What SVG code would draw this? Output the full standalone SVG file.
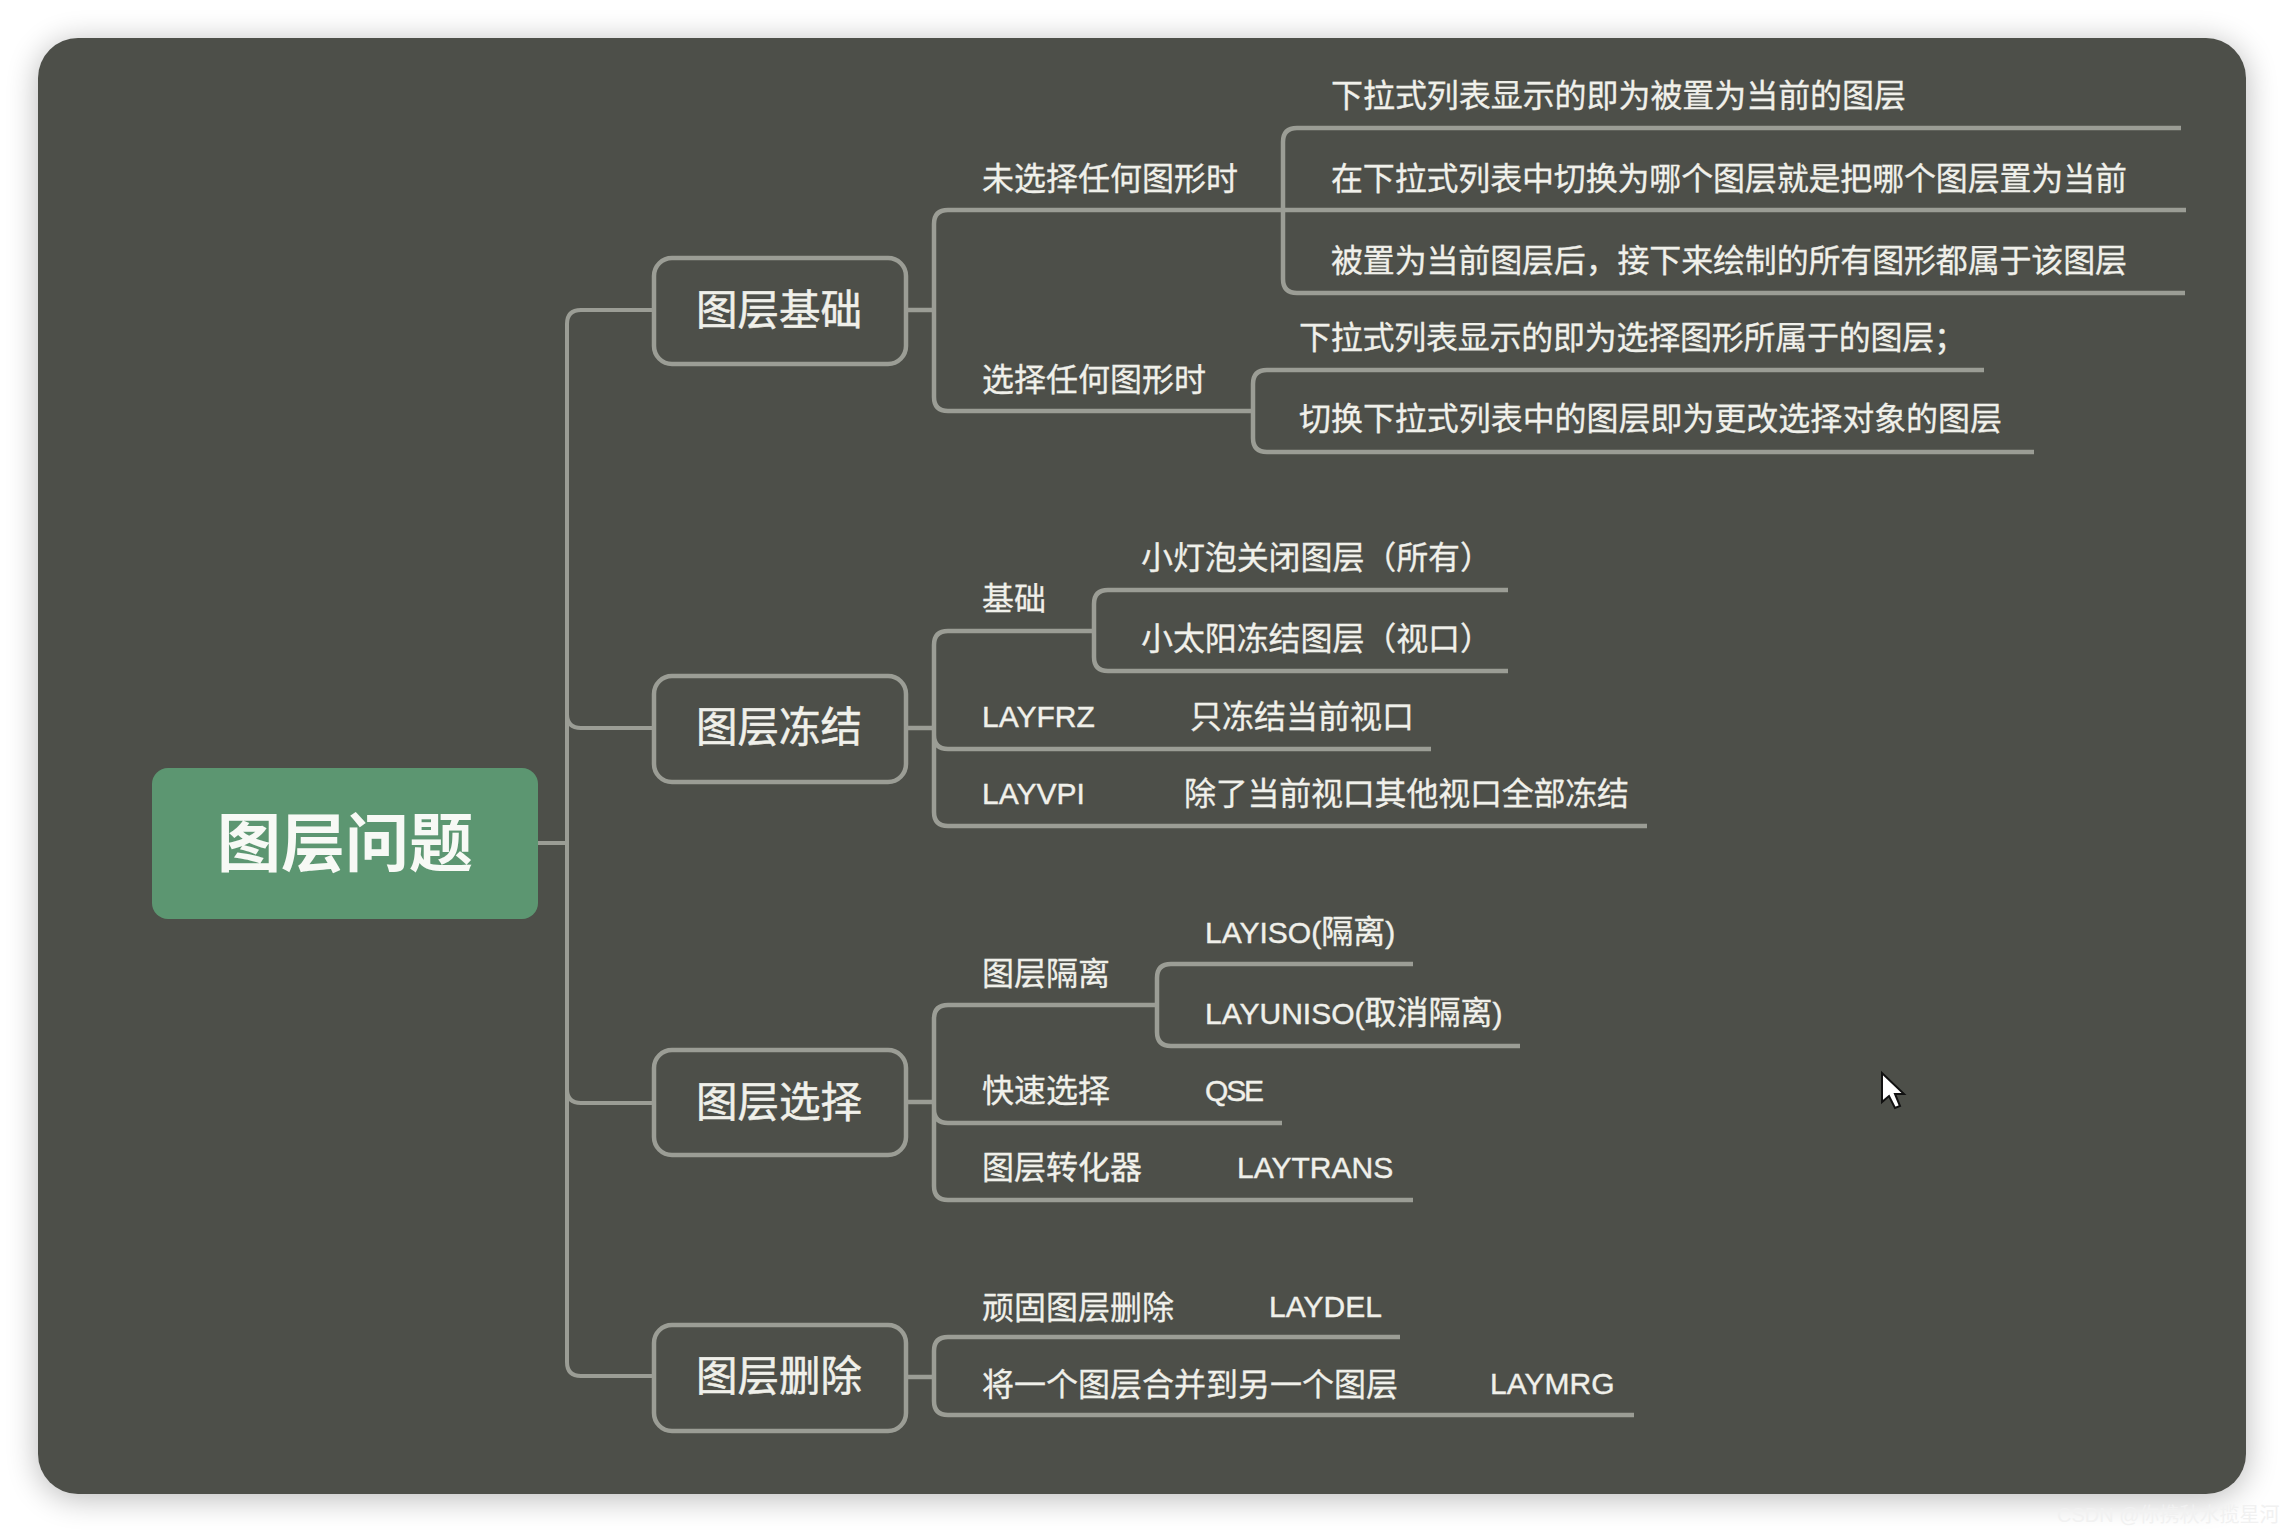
<svg xmlns="http://www.w3.org/2000/svg" width="2284" height="1532" viewBox="0 0 2284 1532">
<style>
.l{fill:none;stroke:#9b9d95;stroke-width:4.5;stroke-linecap:butt}
text{font-family:"Liberation Sans","Noto Sans CJK SC",sans-serif;fill:#f0f0ea}
.t{font-size:32px;stroke:#f0f0ea;stroke-width:0.3}
.b{font-size:41.5px;text-anchor:middle;stroke:#f0f0ea;stroke-width:0.5}
.n{fill:#4d4f49;stroke:#9b9d95;stroke-width:4.5}
.e{font-size:30px;stroke:#f0f0ea;stroke-width:0.4}
.c{font-size:32px}
</style>
<defs>
<filter id="s" x="-5%" y="-5%" width="110%" height="110%"><feGaussianBlur stdDeviation="16"/></filter>
</defs>
<rect width="2284" height="1532" fill="#fff"/>
<rect x="38" y="42" width="2208" height="1456" rx="40" fill="#000" opacity="0.28" filter="url(#s)"/>
<rect id="card" x="38" y="38" width="2208" height="1456" rx="40" fill="#4d4f49"/>
<text x="2057" y="1522" font-size="20" style="fill:#f1f1f1">CSDN @你携秋水揽星河</text>
<g id="connectors" class="l">
<path class="l" style="stroke-width:4" d="M537 843H567M567 843V324Q567 310 581 310H654M567 714Q567 728 581 728H654M567 843V1089Q567 1103 581 1103H654M567 843V1362Q567 1376 581 1376H654"/>
<path class="l" d="M906 310H934M934 310V224Q934 210 948 210H1283M934 310V397Q934 411 948 411H1253"/>
<path class="l" d="M1283 210V142Q1283 128 1297 128H2181M1283 210H2186M1283 210V279Q1283 293 1297 293H2185"/>
<path class="l" d="M1253 411V384Q1253 370 1267 370H1984M1253 411V438Q1253 452 1267 452H2034"/>
<path class="l" d="M906 728H934M934 728V645Q934 631 948 631H1094M934 728V735Q934 749 948 749H1431M934 728V812Q934 826 948 826H1647"/>
<path class="l" d="M1094 631V604Q1094 590 1108 590H1508M1094 631V657Q1094 671 1108 671H1508"/>
<path class="l" d="M906 1102H934M934 1102V1019Q934 1005 948 1005H1157M934 1102V1109Q934 1123 948 1123H1282M934 1102V1186Q934 1200 948 1200H1413"/>
<path class="l" d="M1157 1005V978Q1157 964 1171 964H1413M1157 1005V1032Q1157 1046 1171 1046H1520"/>
<path class="l" d="M906 1377H934M934 1377V1351Q934 1337 948 1337H1400M934 1377V1401Q934 1415 948 1415H1634"/>
</g>
<g id="root"><rect x="152" y="768" width="386" height="151" rx="16" fill="#5c9671"/><text x="345" y="866" font-size="64" font-weight="700" text-anchor="middle" style="fill:#f7f9f5">图层问题</text></g>
<g id="n1"><rect class="n" x="654" y="258" width="252" height="106" rx="18"/><text class="b" x="779" y="325">图层基础</text></g>
<g id="n2"><rect class="n" x="654" y="676" width="252" height="106" rx="18"/><text class="b" x="779" y="742">图层冻结</text></g>
<g id="n3"><rect class="n" x="654" y="1050" width="252" height="105" rx="18"/><text class="b" x="779" y="1117">图层选择</text></g>
<g id="n4"><rect class="n" x="654" y="1325" width="252" height="106" rx="18"/><text class="b" x="779" y="1391">图层删除</text></g>
<g id="leaf-jichu">
<text class="t" x="982" y="190">未选择任何图形时</text>
<text class="t" x="982" y="391">选择任何图形时</text>
<text class="t" x="1331" y="107" textLength="575">下拉式列表显示的即为被置为当前的图层</text>
<text class="t" x="1331" y="190" textLength="796">在下拉式列表中切换为哪个图层就是把哪个图层置为当前</text>
<text class="t" x="1331" y="272" textLength="796">被置为当前图层后，接下来绘制的所有图形都属于该图层</text>
<text class="t" x="1299" y="349" textLength="667">下拉式列表显示的即为选择图形所属于的图层；</text>
<text class="t" x="1299" y="430" textLength="703">切换下拉式列表中的图层即为更改选择对象的图层</text>
</g>
<g id="leaf-dongjie">
<text class="t" x="982" y="610">基础</text>
<text class="t" x="1141" y="569" textLength="351">小灯泡关闭图层（所有）</text>
<text class="t" x="1141" y="650" textLength="351">小太阳冻结图层（视口）</text>
<text class="e" x="982" y="727">LAYFRZ</text>
<text class="t" x="1190" y="728">只冻结当前视口</text>
<text class="e" x="982" y="804">LAYVPI</text>
<text class="t" x="1184" y="805" textLength="445">除了当前视口其他视口全部冻结</text>
</g>
<g id="leaf-xuanze">
<text class="t" x="982" y="985">图层隔离</text>
<text class="e" x="1205" y="943">LAYISO(<tspan class="c">隔离</tspan>)</text>
<text class="e" x="1205" y="1024">LAYUNISO(<tspan class="c">取消隔离</tspan>)</text>
<text class="t" x="982" y="1102">快速选择</text>
<text class="e" x="1205" y="1101" textLength="59">QSE</text>
<text class="t" x="982" y="1179">图层转化器</text>
<text class="e" x="1237" y="1178">LAYTRANS</text>
</g>
<g id="leaf-shanchu">
<text class="t" x="982" y="1319">顽固图层删除</text>
<text class="e" x="1269" y="1317">LAYDEL</text>
<text class="t" x="982" y="1396">将一个图层合并到另一个图层</text>
<text class="e" x="1490" y="1394">LAYMRG</text>
</g>
<path id="cursor" d="M1882 1073V1102L1889 1096L1895 1108L1900 1106L1895 1094L1904 1094Z" fill="#fff" stroke="#111" stroke-width="2"/>
</svg>
